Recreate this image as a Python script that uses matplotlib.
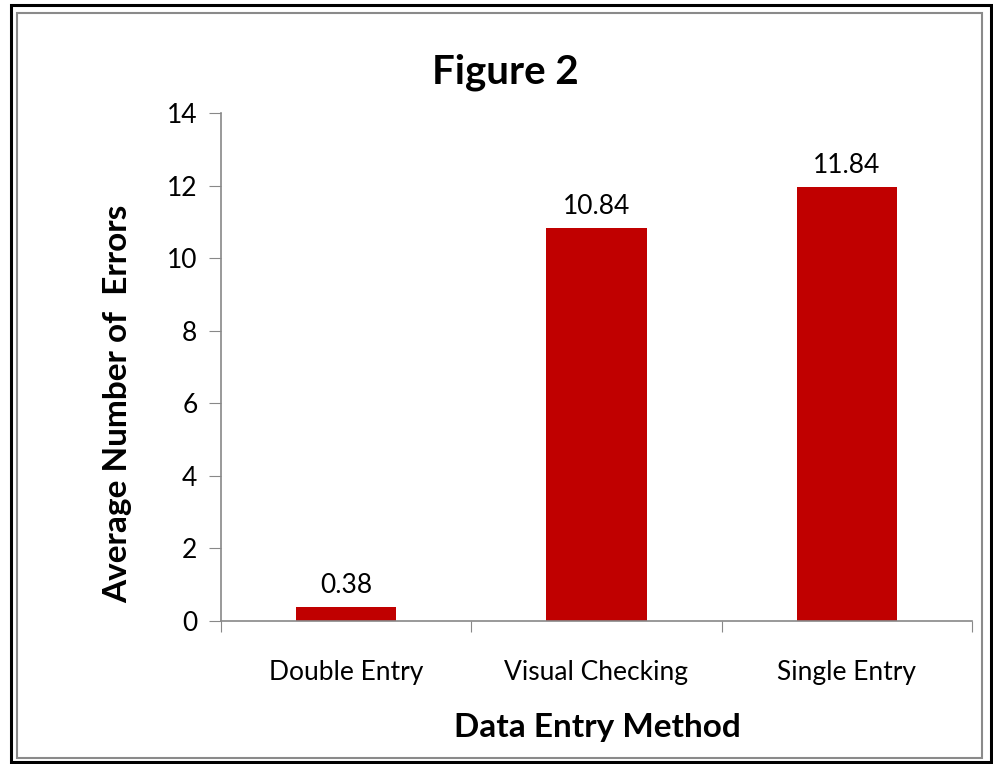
import matplotlib
matplotlib.use("Agg")
import matplotlib.pyplot as plt
from matplotlib.patches import Rectangle

# data
methods = ["Double Entry", "Visual Checking", "Single Entry"]
bar_heights = [0.38, 10.84, 11.97]
bar_labels = ["0.38", "10.84", "11.84"]
yticks = [0, 2, 4, 6, 8, 10, 12, 14]

plt.rcParams['font.family'] = ['Lato', 'DejaVu Sans']

fig = plt.figure(figsize=(9.93, 7.64), dpi=100)
W, H = 993, 764
ax = fig.add_axes([221/W, 1-621/H, (972-221)/W, (621-113)/H])

x = list(range(len(methods)))
ax.bar(x, bar_heights, width=0.4, color="#C00000", zorder=2)
for xi, h, lab in zip(x, bar_heights, bar_labels):
    ax.text(xi, h + 0.25, lab, ha="center", va="bottom", fontsize=19)

ax.set_xlim(-0.5, 2.5)
ax.set_ylim(0, 14)
ax.set_yticks(yticks)
ax.set_yticklabels([str(t) for t in yticks], fontsize=19)
ax.set_xticks([-0.5, 0.5, 1.5, 2.5])
ax.set_xticklabels([])
ax.set_xticks(x, minor=True)
ax.set_xticklabels(methods, minor=True, fontsize=19)
ax.tick_params(axis="x", which="major", direction="out", length=8, color="#888888")
ax.tick_params(axis="x", which="minor", length=0, pad=28)
ax.tick_params(axis="y", direction="out", length=9, color="#888888", pad=8)

for s in ["top", "right"]:
    ax.spines[s].set_visible(False)
for s in ["left", "bottom"]:
    ax.spines[s].set_color("#888888")
    ax.spines[s].set_linewidth(1.2)

fig.text(505/W, 1-72/H, "Figure 2", ha="center", va="center", fontsize=29, fontweight="bold")
fig.text(597/W, 1-728/H, "Data Entry Method", ha="center", va="center", fontsize=24, fontweight="bold")
fig.text(118/W, 1-404/H, "Average Number of  Errors", ha="center", va="center",
         rotation=90, fontsize=24, fontweight="bold")

# borders
fig.patches.append(Rectangle((11/W, 1-762/H), (991-11)/W, (762-5)/H, transform=fig.transFigure,
                             fill=False, edgecolor="black", linewidth=2.2))
fig.patches.append(Rectangle((17/W, 1-758/H), (982-17)/W, (758-13)/H, transform=fig.transFigure,
                             fill=False, edgecolor="#8a8a8a", linewidth=1.5))

fig.savefig("out.png", dpi=100)
